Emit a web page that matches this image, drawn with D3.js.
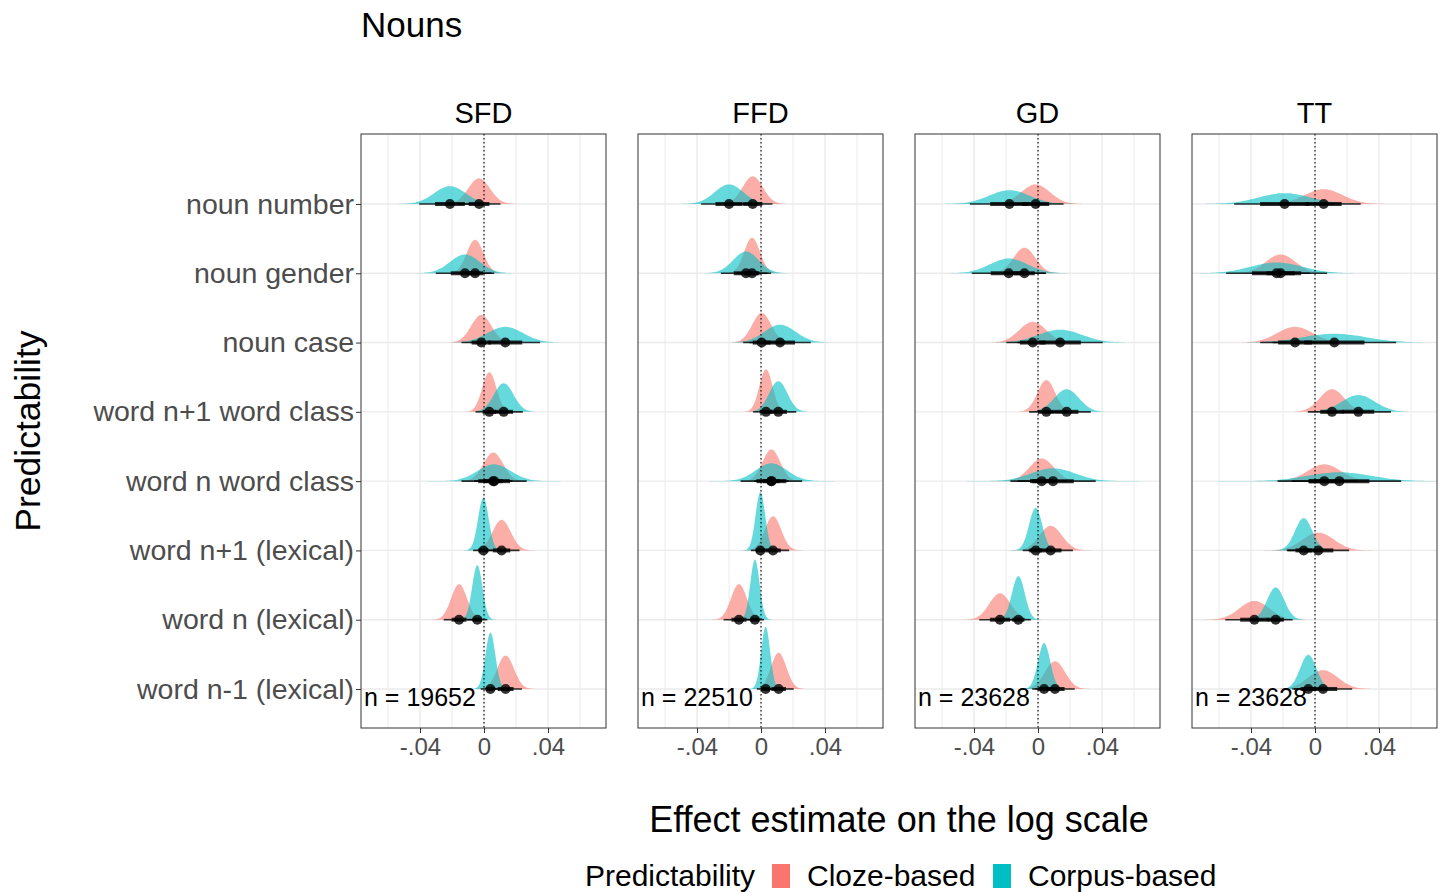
<!DOCTYPE html>
<html>
<head>
<meta charset="utf-8">
<script src="https://cdn.jsdelivr.net/npm/d3@7"></script>
<style>
  body { margin: 0; background: #fff; }
  svg text { font-family: 'Liberation Sans', Arial, sans-serif; }
  .axis path.domain { display: none; }
  .axis line { stroke: #333; }
  .axis text { fill: #4d4d4d; }
</style>
</head>
<body>
<div id="chart"></div>
<script>
// rows from top to bottom
const rows = ['noun number', 'noun gender', 'noun case', 'word n+1 word class',
  'word n word class', 'word n+1 (lexical)', 'word n (lexical)', 'word n-1 (lexical)'];
const measures = ['SFD', 'FFD', 'GD', 'TT'];
const sampleSizes = [19652, 22510, 23628, 23628];
const groups = ['Cloze-based', 'Corpus-based'];
const xTicks = [-0.04, 0, 0.04];

// posterior medians and spreads, one inner array per measure (rows in order above)
const clozeMedian = [
  [-0.0031, -0.0056, -0.0017, 0.0033, 0.0058, 0.0110, -0.0156, 0.0135],
  [-0.0052, -0.0056, 0.0004, 0.0031, 0.0065, 0.0075, -0.0138, 0.0110],
  [-0.0015, -0.0085, -0.0033, 0.0052, 0.0023, 0.0079, -0.0238, 0.0106],
  [0.0054, -0.0215, -0.0125, 0.0106, 0.0058, 0.0021, -0.0379, 0.0050],
];
const clozeSd = [
  [0.0068, 0.0052, 0.0063, 0.0044, 0.0061, 0.0057, 0.0049, 0.0052],
  [0.0063, 0.0049, 0.0059, 0.0041, 0.0055, 0.0051, 0.0049, 0.0048],
  [0.0089, 0.0068, 0.0084, 0.0055, 0.0077, 0.0071, 0.0066, 0.0063],
  [0.0118, 0.0093, 0.0111, 0.0077, 0.0104, 0.0098, 0.0093, 0.0093],
];
const corpusMedian = [
  [-0.0213, -0.0119, 0.0133, 0.0123, 0.0063, -0.0004, -0.0042, 0.0040],
  [-0.0200, -0.0094, 0.0119, 0.0108, 0.0065, -0.0004, -0.0038, 0.0029],
  [-0.0179, -0.0183, 0.0138, 0.0179, 0.0094, -0.0015, -0.0123, 0.0038],
  [-0.0190, -0.0240, 0.0121, 0.0271, 0.0152, -0.0071, -0.0246, -0.0042],
];
const corpusSd = [
  [0.0098, 0.0093, 0.0111, 0.0061, 0.0104, 0.0033, 0.0032, 0.0031],
  [0.0089, 0.0080, 0.0098, 0.0057, 0.0098, 0.0030, 0.0029, 0.0028],
  [0.0126, 0.0118, 0.0136, 0.0077, 0.0136, 0.0041, 0.0040, 0.0038],
  [0.0161, 0.0161, 0.0197, 0.0104, 0.0197, 0.0054, 0.0054, 0.0051],
];

const colors = d3.scaleOrdinal().domain(groups).range(['#F8766D', '#00BFC4']);

class HalfEyeFacets {
  constructor(_config) {
    this.config = {
      parentElement: _config.parentElement,
      containerWidth: 1443,
      containerHeight: 892,
      panelLeft: 361,
      panelTop: 134,
      panelWidth: 245,
      panelHeight: 594,
      panelGap: 32,
    };
    this.initVis();
  }

  initVis() {
    const vis = this;
    const c = vis.config;

    vis.svg = d3.select(c.parentElement).append('svg')
      .attr('width', c.containerWidth)
      .attr('height', c.containerHeight);

    vis.xScale = d3.scaleLinear()
      .domain([-0.0769, 0.07625])
      .range([0, c.panelWidth]);
    // row value 8 = top row, 1 = bottom row
    vis.yScale = d3.scaleLinear()
      .domain([0.437, 9.01])
      .range([c.panelHeight, 0]);
    vis.rowValue = (i) => rows.length - i;

    vis.normal = (x, m, s) => Math.exp(-0.5 * ((x - m) / s) ** 2) / (s * Math.sqrt(2 * Math.PI));

    // normalize all slabs together, tallest one fills 0.9 of a row
    const minSd = d3.min([...clozeSd.flat(), ...corpusSd.flat()]);
    const rowStep = vis.yScale(1) - vis.yScale(2);
    vis.thickness = 0.9 * rowStep / vis.normal(0, 0, minSd);

    vis.svg.append('defs').append('clipPath')
      .attr('id', 'panel-clip')
      .append('rect')
      .attr('width', c.panelWidth)
      .attr('height', c.panelHeight);

    // titles
    vis.svg.append('text')
      .attr('x', c.panelLeft)
      .attr('y', 37)
      .attr('font-size', 35)
      .text('Nouns');

    vis.svg.append('text')
      .attr('transform', `translate(40,${c.panelTop + c.panelHeight / 2}) rotate(-90)`)
      .attr('text-anchor', 'middle')
      .attr('font-size', 35.5)
      .text('Predictability');

    const fullWidth = measures.length * c.panelWidth + (measures.length - 1) * c.panelGap;
    vis.svg.append('text')
      .attr('x', c.panelLeft + fullWidth / 2)
      .attr('y', 832)
      .attr('text-anchor', 'middle')
      .attr('font-size', 36)
      .text('Effect estimate on the log scale');

    vis.renderVis();
    vis.renderLegend();
  }

  renderVis() {
    const vis = this;
    const c = vis.config;

    measures.forEach((m, mi) => {
      const left = c.panelLeft + mi * (c.panelWidth + c.panelGap);
      const g = vis.svg.append('g')
        .attr('transform', `translate(${left},${c.panelTop})`);

      // strip label
      g.append('text')
        .attr('x', c.panelWidth / 2)
        .attr('y', -11)
        .attr('text-anchor', 'middle')
        .attr('font-size', 29)
        .text(m);

      // grid
      const grid = g.append('g');
      grid.selectAll('.minor')
        .data([-0.06, -0.02, 0.02, 0.06])
        .join('line')
        .attr('x1', (d) => vis.xScale(d))
        .attr('x2', (d) => vis.xScale(d))
        .attr('y1', 0)
        .attr('y2', c.panelHeight)
        .attr('stroke', '#ebebeb')
        .attr('stroke-width', 1);
      grid.selectAll('.major')
        .data(xTicks)
        .join('line')
        .attr('x1', (d) => vis.xScale(d))
        .attr('x2', (d) => vis.xScale(d))
        .attr('y1', 0)
        .attr('y2', c.panelHeight)
        .attr('stroke', '#ebebeb')
        .attr('stroke-width', 1.4);
      grid.selectAll('.hgrid')
        .data(rows)
        .join('line')
        .attr('x1', 0)
        .attr('x2', c.panelWidth)
        .attr('y1', (d, i) => vis.yScale(vis.rowValue(i)))
        .attr('y2', (d, i) => vis.yScale(vis.rowValue(i)))
        .attr('stroke', '#ebebeb')
        .attr('stroke-width', 1.4);

      const cells = [];
      rows.forEach((r, i) => {
        cells.push({ row: i, group: groups[0], median: clozeMedian[mi][i], sd: clozeSd[mi][i] });
      });
      rows.forEach((r, i) => {
        cells.push({ row: i, group: groups[1], median: corpusMedian[mi][i], sd: corpusSd[mi][i] });
      });

      const slabs = g.append('g').attr('clip-path', 'url(#panel-clip)');
      const area = d3.area()
        .x((d) => vis.xScale(d.x))
        .y0((d) => d.base)
        .y1((d) => d.base - d.h)
        .curve(d3.curveBasis);

      slabs.selectAll('.slab')
        .data(cells)
        .join('path')
        .attr('class', 'slab')
        .attr('fill', (d) => colors(d.group))
        .attr('fill-opacity', 0.6)
        .attr('d', (d) => {
          const base = vis.yScale(vis.rowValue(d.row));
          const pts = d3.range(-4, 4.001, 0.1).map((k) => {
            const x = d.median + k * d.sd;
            return { x, base, h: vis.thickness * vis.normal(x, d.median, d.sd) };
          });
          return area(pts);
        });

      // zero line
      g.append('line')
        .attr('x1', vis.xScale(0))
        .attr('x2', vis.xScale(0))
        .attr('y1', 0)
        .attr('y2', c.panelHeight)
        .attr('stroke', '#000')
        .attr('stroke-width', 1.1)
        .attr('stroke-dasharray', '1.5,2.5');

      // intervals
      const ints = g.append('g').attr('clip-path', 'url(#panel-clip)');
      ints.selectAll('.wide')
        .data(cells)
        .join('line')
        .attr('x1', (d) => vis.xScale(d.median - 1.96 * d.sd))
        .attr('x2', (d) => vis.xScale(d.median + 1.96 * d.sd))
        .attr('y1', (d) => vis.yScale(vis.rowValue(d.row)))
        .attr('y2', (d) => vis.yScale(vis.rowValue(d.row)))
        .attr('stroke', '#000')
        .attr('stroke-opacity', 0.8)
        .attr('stroke-width', 1.6);
      ints.selectAll('.narrow')
        .data(cells)
        .join('line')
        .attr('x1', (d) => vis.xScale(d.median - 0.954 * d.sd))
        .attr('x2', (d) => vis.xScale(d.median + 0.954 * d.sd))
        .attr('y1', (d) => vis.yScale(vis.rowValue(d.row)))
        .attr('y2', (d) => vis.yScale(vis.rowValue(d.row)))
        .attr('stroke', '#000')
        .attr('stroke-opacity', 0.8)
        .attr('stroke-width', 4);
      ints.selectAll('.dot')
        .data(cells)
        .join('circle')
        .attr('cx', (d) => vis.xScale(d.median))
        .attr('cy', (d) => vis.yScale(vis.rowValue(d.row)))
        .attr('r', 5)
        .attr('fill', '#000')
        .attr('fill-opacity', 0.8);

      // sample size
      g.append('text')
        .attr('x', 3)
        .attr('y', vis.yScale(vis.rowValue(rows.length - 1)) + 17)
        .attr('font-size', 25)
        .text(`n = ${sampleSizes[mi]}`);

      // border
      g.append('rect')
        .attr('width', c.panelWidth)
        .attr('height', c.panelHeight)
        .attr('fill', 'none')
        .attr('stroke', '#333')
        .attr('stroke-width', 1);

      // x axis
      const xAxis = d3.axisBottom(vis.xScale)
        .tickValues(xTicks)
        .tickSize(5)
        .tickPadding(5)
        .tickFormat((d) => (d === 0 ? '0' : d3.format('.2f')(d).replace('\u2212', '-').replace('0.', '.')));
      g.append('g')
        .attr('class', 'axis x-axis')
        .attr('transform', `translate(0,${c.panelHeight})`)
        .call(xAxis)
        .selectAll('text')
        .attr('font-size', 24);

      // y axis only on the first panel
      if (mi === 0) {
        const yAxis = d3.axisLeft(vis.yScale)
          .tickValues(rows.map((r, i) => vis.rowValue(i)))
          .tickSize(5)
          .tickPadding(2)
          .tickFormat((v) => rows[rows.length - v]);
        g.append('g')
          .attr('class', 'axis y-axis')
          .call(yAxis)
          .selectAll('text')
          .attr('font-size', 28.5);
      }
    });
  }

  renderLegend() {
    const vis = this;
    const lg = vis.svg.append('g').attr('transform', 'translate(585,876)');
    lg.append('text')
      .attr('y', 10)
      .attr('font-size', 30)
      .text('Predictability');
    const keyX = [187, 408];
    groups.forEach((grp, i) => {
      lg.append('rect')
        .attr('x', keyX[i])
        .attr('y', -12)
        .attr('width', 18)
        .attr('height', 24)
        .attr('fill', colors(grp));
      lg.append('text')
        .attr('x', keyX[i] + 35)
        .attr('y', 10)
        .attr('font-size', 30)
        .text(grp);
    });
  }
}

new HalfEyeFacets({ parentElement: '#chart' });
</script>
</body>
</html>
